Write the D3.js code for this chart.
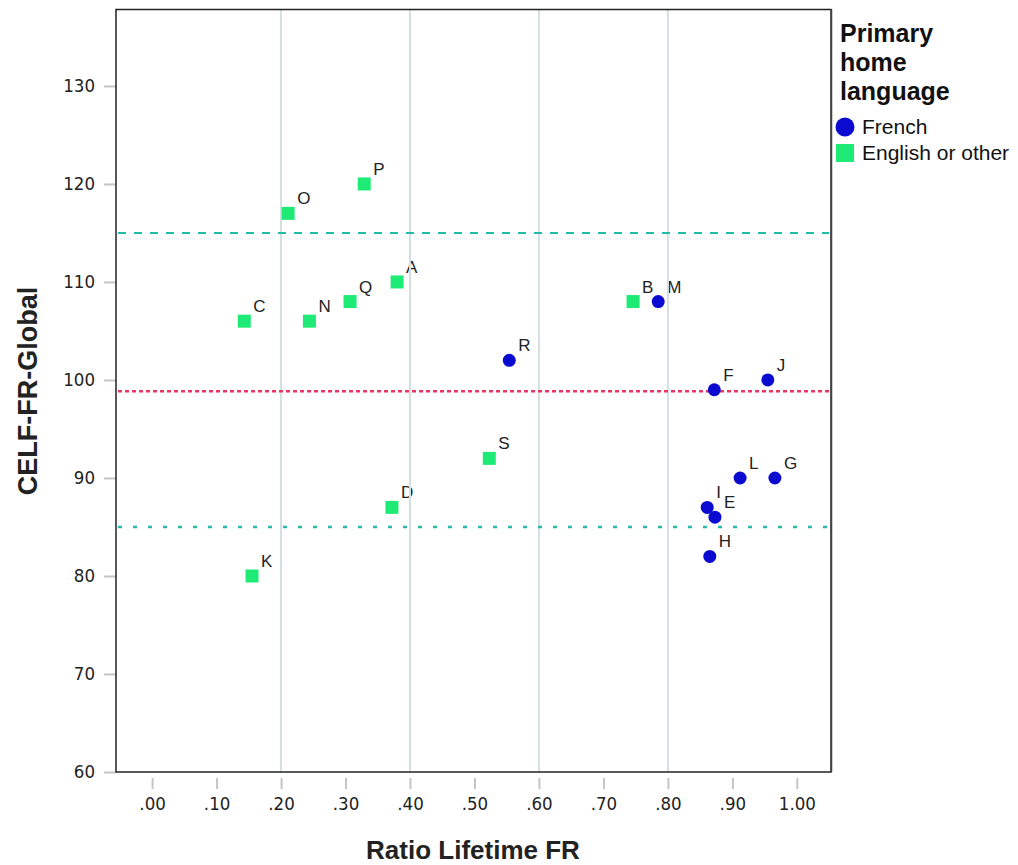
<!DOCTYPE html>
<html>
<head>
<meta charset="utf-8">
<script src="https://cdn.jsdelivr.net/npm/d3@7"></script>
<style>
  body { margin: 0; background: #fff; }
  svg { display: block; }
</style>
</head>
<body>
<svg></svg>
<script>
// values
var cases    = ["P", "O", "A", "Q", "N", "C", "B", "M", "R", "F", "J", "S", "L", "G", "D", "I", "E", "H", "K"];
var ratio    = [0.329, 0.211, 0.380, 0.307, 0.244, 0.143, 0.746, 0.785, 0.554, 0.872, 0.955, 0.523, 0.912, 0.966, 0.372, 0.861, 0.873, 0.865, 0.155];
var celf     = [120, 117, 110, 108, 106, 106, 108, 108, 102, 99, 100, 92, 90, 90, 87, 87, 86, 82, 80];
var language = ["E", "E", "E", "E", "E", "E", "E", "F", "F", "F", "F", "E", "F", "F", "E", "F", "F", "F", "E"];

var xTicks = [0, 0.1, 0.2, 0.3, 0.4, 0.5, 0.6, 0.7, 0.8, 0.9, 1.0];
var yTicks = [60, 70, 80, 90, 100, 110, 120, 130];
var gridX  = [0.2, 0.4, 0.6, 0.8];
var refLines = [115, 85];
var meanLine = 98.84;

var legendTitle = ["Primary", "home", "language"];
var legendNames = ["French", "English or other"];

var svgWidth = 1018, svgHeight = 865;
var blue = "#0a0ad0", green = "#1eea76";

var svg = d3.select("svg")
    .attr("width", svgWidth)
    .attr("height", svgHeight);

var x = d3.scaleLinear().domain([-0.056, 1.053]).range([116, 831]);
var y = d3.scaleLinear().domain([60, 137.8]).range([772, 9.5]);

var tickFont = "'DejaVu Sans Condensed', 'DejaVu Sans', sans-serif";

// y axis
var yAxis = svg.append("g")
    .attr("transform", "translate(116,0)")
    .call(d3.axisLeft(y).tickValues(yTicks).tickSize(12).tickPadding(9).tickFormat(d3.format("d")));
yAxis.select(".domain").remove();
yAxis.selectAll(".tick line").attr("stroke", "#c4c4c4").attr("stroke-width", 2);
yAxis.selectAll(".tick text")
    .attr("fill", "#222")
    .style("font-family", tickFont)
    .style("font-stretch", "condensed")
    .style("font-size", "18.5px");

// x axis
var xAxis = svg.append("g")
    .attr("transform", "translate(0,778)")
    .call(d3.axisBottom(x).tickValues(xTicks).tickSize(11).tickPadding(8)
        .tickFormat(function(d) { return d3.format(".2f")(d).replace(/^0/, ""); }));
xAxis.select(".domain").remove();
xAxis.selectAll(".tick line").attr("stroke", "#c4c4c4").attr("stroke-width", 2);
xAxis.selectAll(".tick text")
    .attr("fill", "#222")
    .style("font-family", tickFont)
    .style("font-stretch", "condensed")
    .style("font-size", "18.5px");

// point labels (under the grid lines, as in the original)
svg.selectAll("text.lab")
    .data(cases)
    .enter()
    .append("text")
    .attr("class", "lab")
    .attr("x", function(d, i) { return x(ratio[i]) + 9; })
    .attr("y", function(d, i) { return y(celf[i]) - 9; })
    .attr("fill", "#222")
    .style("font-family", "'Liberation Sans', Arial, sans-serif")
    .style("font-size", "17px")
    .text(function(d) { return d; });

// grid lines
svg.selectAll("line.grid")
    .data(gridX)
    .enter()
    .append("line")
    .attr("x1", function(d) { return x(d); })
    .attr("x2", function(d) { return x(d); })
    .attr("y1", y.range()[1])
    .attr("y2", y.range()[0])
    .attr("stroke", "#d2e0e2")
    .attr("stroke-width", 2);

// reference lines
svg.append("line")
    .attr("x1", 118).attr("x2", 829)
    .attr("y1", y(refLines[0])).attr("y2", y(refLines[0]))
    .attr("stroke", "#25bba8").attr("stroke-width", 2)
    .attr("stroke-dasharray", "8,8");
svg.append("line")
    .attr("x1", 118).attr("x2", 829)
    .attr("y1", y(refLines[1])).attr("y2", y(refLines[1]))
    .attr("stroke", "#25bba8").attr("stroke-width", 2.5)
    .attr("stroke-dasharray", "4,11");
svg.append("line")
    .attr("x1", 118).attr("x2", 829)
    .attr("y1", y(meanLine)).attr("y2", y(meanLine))
    .attr("stroke", "#ea3560").attr("stroke-width", 2.5)
    .attr("stroke-dasharray", "4,3");

// frame
svg.append("rect")
    .attr("x", 116).attr("y", 9.5)
    .attr("width", 715).attr("height", 762.5)
    .attr("fill", "none")
    .attr("stroke", "#222")
    .attr("stroke-width", 1.5);

// markers
var idx = d3.range(cases.length);
svg.selectAll("rect.eng")
    .data(idx.filter(function(i) { return language[i] === "E"; }))
    .enter()
    .append("rect")
    .attr("class", "eng")
    .attr("x", function(i) { return x(ratio[i]) - 6.5; })
    .attr("y", function(i) { return y(celf[i]) - 6.5; })
    .attr("width", 13)
    .attr("height", 13)
    .attr("fill", green);

svg.selectAll("circle.fr")
    .data(idx.filter(function(i) { return language[i] === "F"; }))
    .enter()
    .append("circle")
    .attr("class", "fr")
    .attr("cx", function(i) { return x(ratio[i]); })
    .attr("cy", function(i) { return y(celf[i]); })
    .attr("r", 6.5)
    .attr("fill", blue);

// axis titles
svg.append("text")
    .attr("x", 473).attr("y", 859)
    .attr("text-anchor", "middle")
    .style("font-family", "'Liberation Sans', Arial, sans-serif")
    .style("font-weight", "bold")
    .style("font-size", "26px")
    .attr("fill", "#222")
    .text("Ratio Lifetime FR");

svg.append("text")
    .attr("transform", "translate(37,391) rotate(-90)")
    .attr("text-anchor", "middle")
    .style("font-family", "'Liberation Sans', Arial, sans-serif")
    .style("font-weight", "bold")
    .style("font-size", "27px")
    .attr("fill", "#222")
    .text("CELF-FR-Global");

// legend
var legend = svg.append("g");
legend.append("rect")
    .attr("x", 832).attr("y", 0)
    .attr("width", 186).attr("height", 200)
    .attr("fill", "#fff");
legend.append("line")
    .attr("x1", 831.5).attr("x2", 831.5)
    .attr("y1", 9).attr("y2", 772)
    .attr("stroke", "#444").attr("stroke-width", 1.5);

legend.selectAll("text.title")
    .data(legendTitle)
    .enter()
    .append("text")
    .attr("class", "title")
    .attr("x", 840)
    .attr("y", function(d, i) { return 42 + i * 29; })
    .style("font-family", "'Liberation Sans', Arial, sans-serif")
    .style("font-weight", "bold")
    .style("font-size", "25px")
    .attr("fill", "#111")
    .text(function(d) { return d; });

legend.append("circle")
    .attr("cx", 845).attr("cy", 127).attr("r", 9.5)
    .attr("fill", blue);
legend.append("rect")
    .attr("x", 836).attr("y", 144).attr("width", 18).attr("height", 18)
    .attr("fill", green);

legend.selectAll("text.item")
    .data(legendNames)
    .enter()
    .append("text")
    .attr("class", "item")
    .attr("x", 862)
    .attr("y", function(d, i) { return 134 + i * 26; })
    .style("font-family", "'Liberation Sans', Arial, sans-serif")
    .style("font-size", "21px")
    .attr("fill", "#111")
    .text(function(d) { return d; });
</script>
</body>
</html>
